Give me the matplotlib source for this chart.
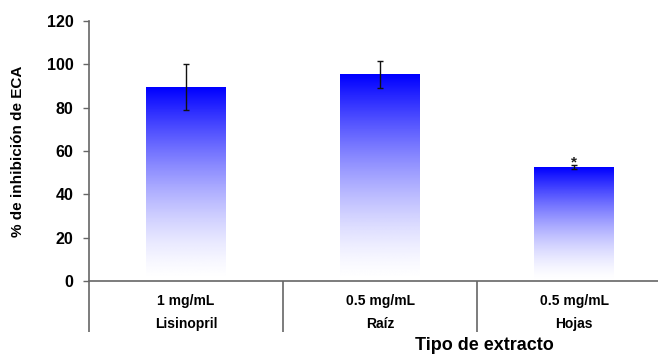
import numpy as np
import matplotlib
matplotlib.use("Agg")
import matplotlib.pyplot as plt
from matplotlib.colors import LinearSegmentedColormap
import matplotlib.transforms as mtransforms

# ---- data ----
categories = ["Lisinopril", "Raíz", "Hojas"]
concentrations = ["1 mg/mL", "0.5 mg/mL", "0.5 mg/mL"]
values = [89.4, 95.5, 52.6]
errors = [10.7, 6.2, 0.9]
significant = [False, False, True]
y_ticks = [0, 20, 40, 60, 80, 100, 120]

plt.rcParams['font.family'] = ['Liberation Sans', 'DejaVu Sans']
plt.rcParams['font.weight'] = 'bold'

W, H = 658, 355
fig = plt.figure(figsize=(W / 100, H / 100), dpi=100)
ax = fig.add_axes([89 / W, 1 - 281 / H, 582 / W, 260 / H])

axis_color = "#666666"
x = np.arange(1, len(categories) + 1)
bars = ax.bar(x, values, width=0.41, facecolor="none", edgecolor="none", zorder=2)

# vertical gradient: blue at top -> white at bottom
cmap = LinearSegmentedColormap.from_list("bw", ["#ffffff", "#0000ff"])
s = np.linspace(0, 1, 256)
grad = s.reshape(-1, 1) ** 1.5
for b in bars:
    x0, y0, w, h = b.get_x(), b.get_y(), b.get_width(), b.get_height()
    ax.imshow(grad, cmap=cmap, vmin=0, vmax=1, origin="lower", aspect="auto",
              extent=[x0, x0 + w, y0, y0 + h], zorder=2, interpolation="bilinear")

ax.errorbar(x, values, yerr=errors, fmt="none", ecolor="#111111",
            elinewidth=1.0, capsize=2.5, capthick=1.0, zorder=3)

for xi, v, e, sig in zip(x, values, errors, significant):
    if sig:
        ax.text(xi, v + e + 4.3, "*", ha="center", va="top", fontsize=11,
                fontweight="bold", color="#222222", zorder=4)

ax.set_xlim(0.5, 3.5)
ax.set_ylim(0, 120)
ax.set_yticks(y_ticks)
ax.set_yticklabels([str(t) for t in y_ticks], fontsize=11.5, fontweight="bold")

for sp in ["top", "right"]:
    ax.spines[sp].set_visible(False)
for sp in ["left", "bottom"]:
    ax.spines[sp].set_color(axis_color)
    ax.spines[sp].set_linewidth(1.2)

ax.tick_params(axis="y", direction="out", length=4.3, width=1.0,
               color=axis_color, pad=7)
ax.set_xticks(x)
ax.set_xticklabels([])
ax.tick_params(axis="x", which="major", length=0)
ax.set_xticks(np.arange(0.5, len(categories) + 1, 1.0), minor=True)
ax.tick_params(axis="x", which="minor", direction="out", length=36.7,
               width=1.2, color=axis_color)

trans = mtransforms.blended_transform_factory(ax.transData, ax.transAxes)
for xi, conc, cat in zip(x, concentrations, categories):
    ax.text(xi, -0.077, conc, transform=trans, ha="center", va="center",
            fontsize=10, fontweight="bold")
    ax.text(xi, -0.165, cat, transform=trans, ha="center", va="center",
            fontsize=10, fontweight="bold")

fig.text(18 / W, 1 - 151 / H, "% de inhibición de ECA", rotation=90,
         ha="center", va="center", fontsize=11, fontweight="bold")
fig.text(484 / W, 1 - 350 / H, "Tipo de extracto", ha="center",
         va="baseline", fontsize=13, fontweight="bold")

fig.savefig("out.png", dpi=100)
